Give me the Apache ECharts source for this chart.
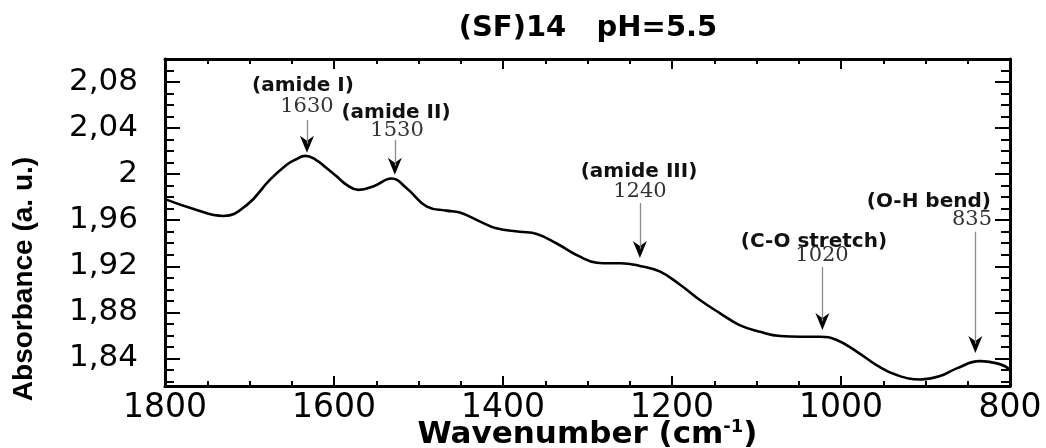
<!DOCTYPE html>
<html>
<head>
<meta charset="utf-8">
<script src="https://cdn.jsdelivr.net/npm/echarts@6/dist/echarts.min.js"></script>
<style>
html,body{margin:0;padding:0;background:#fff;}
#c{width:1046px;height:448px;}
</style>
</head>
<body>
<div id="c"></div>
<script>
// ---- data ----
var wavenumbers = [1800, 1767, 1731, 1703, 1676, 1656, 1646, 1634, 1622, 1610, 1598, 1585, 1571, 1553, 1532, 1514, 1490, 1467, 1451, 1427, 1408, 1380, 1360, 1337, 1309, 1289, 1273, 1261, 1238, 1214, 1190, 1167, 1143, 1120, 1096, 1072, 1048, 1025, 1005, 981, 958, 934, 906, 883, 863, 836, 812, 800];
var absorbance  = [1.9783, 1.9700, 1.9637, 1.9733, 1.9950, 2.0081, 2.0125, 2.0159, 2.0127, 2.0060, 1.9988, 1.9907, 1.9863, 1.9895, 1.9962, 1.9878, 1.9718, 1.9683, 1.9666, 1.9588, 1.9530, 1.9500, 1.9480, 1.9400, 1.9283, 1.9231, 1.9226, 1.9226, 1.9203, 1.9153, 1.9037, 1.8907, 1.8791, 1.8689, 1.8631, 1.8594, 1.8588, 1.8588, 1.8559, 1.8457, 1.8342, 1.8255, 1.8217, 1.8246, 1.8313, 1.8376, 1.8350, 1.8304];

var yMajorTicks = [1.84, 1.88, 1.92, 1.96, 2.00, 2.04, 2.08];
var yMinorTicks = [1.82, 1.83, 1.85, 1.86, 1.87, 1.89, 1.90, 1.91, 1.93, 1.94, 1.95, 1.97, 1.98, 1.99, 2.01, 2.02, 2.03, 2.05, 2.06, 2.07, 2.09, 2.10];

// annotations
var annoNames  = ['(amide I)', '(amide II)', '(amide III)', '(C-O stretch)', '(O-H bend)'];
var annoNameX  = [1636.7, 1526.6, 1239, 1032, 896];
var annoNameY  = [2.0768, 2.0536, 2.0020, 1.9414, 1.9762];
var annoNums   = ['1630', '1530', '1240', '1020', '835'];
var annoNumX   = [1632, 1525.4, 1237.9, 1022.5, 845];
var annoNumY   = [2.0585, 2.0379, 1.9849, 1.9289, 1.9602];
var arrowX     = [1632, 1528, 1238, 1022, 841];
var arrowTopY  = [2.0472, 2.0298, 1.9750, 1.9194, 1.9500];
var arrowTipY  = [2.0185, 1.9994, 1.9272, 1.8646, 1.8447];

// ---- build ----
var lineData = wavenumbers.map(function (w, i) { return [w, absorbance[i]]; });
var nameData = annoNames.map(function (t, i) { return {value: [annoNameX[i], annoNameY[i]], label: {formatter: t}}; });
var numData  = annoNums.map(function (t, i) { return {value: [annoNumX[i], annoNumY[i]], label: {formatter: t}}; });
var tipData  = arrowX.map(function (x, i) { return [x, arrowTipY[i]]; });
var shaftData = arrowX.map(function (x, i) { return [{coord: [x, arrowTopY[i]]}, {coord: [x, arrowTipY[i] + 0.008]}]; });

var YMIN = 1.816, YMAX = 2.1;
var black = '#000';

function yLabel(v) {
  var n = Math.round(v * 100) / 100;
  if (Math.abs(n - 2) < 1e-9) return '2';
  return n.toFixed(2).replace('.', ',');
}

function xAx(pos, showLabel) {
  return {
    type: 'value', position: pos, min: 800, max: 1800, interval: 200, inverse: true,
    axisLine: {show: true, lineStyle: {color: black, width: 3}},
    axisTick: {show: true, inside: true, length: 10, lineStyle: {color: black, width: 2}},
    minorTick: {show: true, splitNumber: 4, length: 5, lineStyle: {color: black, width: 2}},
    splitLine: {show: false}, minorSplitLine: {show: false},
    axisLabel: {show: showLabel, margin: 6, color: black, fontSize: 33, fontFamily: 'DejaVu Sans', formatter: function (v) { return String(v); }},
    name: showLabel ? 'Wavenumber (cm{sup|-1})' : '',
    nameLocation: 'middle', nameGap: 49, nameMoveOverlap: false,
    nameTextStyle: {
      color: black, fontSize: 31, fontWeight: 'bold', fontFamily: 'DejaVu Sans', verticalAlign: 'middle',
      rich: {sup: {fontSize: 18, fontWeight: 'bold', fontFamily: 'DejaVu Sans', color: black, padding: [0, 0, 16, 0]}}
    }
  };
}

function yAx(pos, major, showLabel, showLine) {
  var vals = major ? yMajorTicks : yMinorTicks;
  return {
    type: 'value', position: pos, min: YMIN, max: YMAX,
    axisLine: {show: showLine, lineStyle: {color: black, width: 3}},
    axisTick: {show: true, inside: true, length: major ? 15 : 9, customValues: vals, lineStyle: {color: black, width: 2}},
    splitLine: {show: false},
    axisLabel: {show: showLabel, customValues: yMajorTicks, margin: 27, color: black, fontSize: 31, fontFamily: 'DejaVu Sans', formatter: yLabel}
  };
}

var chart = echarts.init(document.getElementById('c'), null, {renderer: 'canvas'});
chart.setOption({
  animation: false,
  backgroundColor: '#fff',
  grid: {left: 165, right: 36, top: 59, bottom: 62, containLabel: false, outerBoundsMode: 'none'},
  xAxis: [xAx('bottom', true), xAx('top', false)],
  yAxis: [yAx('left', true, true, true), yAx('right', true, false, true), yAx('left', false, false, false), yAx('right', false, false, false)],
  graphic: [
    {type: 'text', x: 588, y: 28, style: {text: '(SF)14   pH=5.5', font: 'bold 29px "DejaVu Sans"', fill: black, textAlign: 'center', textVerticalAlign: 'middle'}},
    {type: 'text', x: 24, y: 279, rotation: Math.PI / 2, style: {text: 'Absorbance (a. u.)', font: 'bold 28px "Liberation Sans"', fill: black, textAlign: 'center', textVerticalAlign: 'middle'}}
  ],
  series: [
    {
      type: 'line', data: lineData, xAxisIndex: 0, yAxisIndex: 0, smooth: 0.45, symbol: 'none',
      lineStyle: {color: black, width: 2.6}, z: 3
    },
    {
      type: 'scatter', data: tipData, xAxisIndex: 0, yAxisIndex: 0,
      symbol: 'path://M0,0L7,5L14,0L7,17Z', symbolSize: [14, 17], symbolOffset: [0, '-50%'],
      itemStyle: {color: black, opacity: 1}, z: 4, silent: true,
      markLine: {silent: true, symbol: 'none', label: {show: false}, lineStyle: {color: '#8a8a8a', width: 1.3, type: 'solid'}, data: shaftData}
    },
    {
      type: 'scatter', data: nameData, xAxisIndex: 0, yAxisIndex: 0, symbolSize: 1, itemStyle: {color: 'rgba(0,0,0,0)', opacity: 1}, silent: true,
      label: {show: true, position: 'inside', color: '#111', fontSize: 20, fontWeight: 'bold', fontFamily: 'DejaVu Sans'}
    },
    {
      type: 'scatter', data: numData, xAxisIndex: 0, yAxisIndex: 0, symbolSize: 1, itemStyle: {color: 'rgba(0,0,0,0)', opacity: 1}, silent: true,
      label: {show: true, position: 'inside', color: '#333', fontSize: 21, fontFamily: 'DejaVu Serif'}
    }
  ]
});
</script>
</body>
</html>
